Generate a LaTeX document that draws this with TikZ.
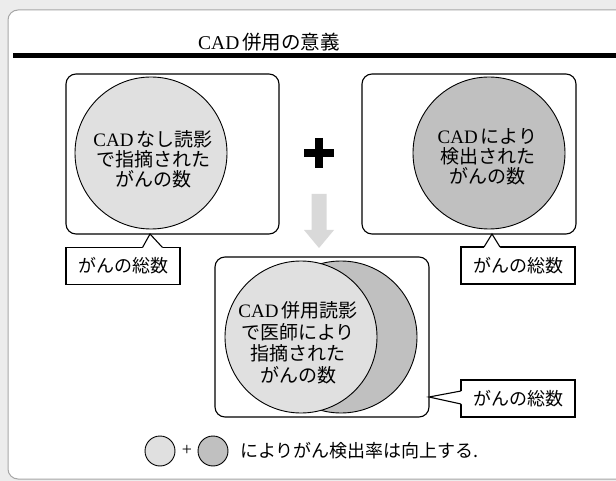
\documentclass[tikz,border=0pt]{standalone}
\usepackage{fontspec}
\setmainfont{Liberation Serif}
\newfontfamily\jp{Noto Sans CJK JP}
\newfontfamily\lat{Liberation Serif}
\definecolor{bgray}{HTML}{ECECEC}
\definecolor{lightc}{HTML}{E0E0E0}
\definecolor{darkc}{HTML}{C0C0C0}
\definecolor{arrowc}{HTML}{D9D9D9}
\definecolor{panelc}{HTML}{A6A6A6}
\newcommand\CADw{{\lat CAD}\hspace{3pt}}
\tikzset{
  bigbox/.style={draw, rounded corners=10, line width=1.1, fill=white, inner sep=0},
  circ/.style={circle, draw, line width=0.9, minimum size=152, inner sep=0},
  ctext/.style={align=center, inner sep=0, font=\fontsize{19}{20}\selectfont\jp},
  callout/.style={draw, fill=white, line width=1.1, minimum width=114, minimum height=37, inner sep=0, font=\fontsize{18}{20}\selectfont\jp},
  ptr/.style={line width=1.1},
  legc/.style={circle, draw, line width=0.9, minimum size=30, inner sep=0},
}
\begin{document}
\begin{tikzpicture}[x=1pt,y=-1pt]
\useasboundingbox (0,0) rectangle (616,481);
\fill[bgray] (0,0) rectangle (616,481);
\begin{scope}
\clip (0,0) rectangle (616,481);
\draw[panelc, fill=white, line width=1, rounded corners=10] (8,10) rectangle (640,479);
\end{scope}

% title and rule
\node[font=\fontsize{19.5}{22}\selectfont\jp, inner sep=0] (title) at (269,42) {\CADw 併用の意義};
\draw[line width=5] (13,55.5) -- (616,55.5);

% big boxes
\node[bigbox, minimum width=213, minimum height=160] (boxL) at (172.5,154) {};
\node[bigbox, minimum width=214, minimum height=160] (boxR) at (469,154) {};
\node[bigbox, minimum width=214, minimum height=160] (boxB) at (322,337) {};

% circles
\node[circ, fill=lightc] (cL) at (151,153) {};
\node[ctext] (tL) at (153,159) {\CADw なし読影\\で指摘された\\がんの数};
\node[circ, fill=darkc] (cR) at (489,153) {};
\node[ctext] (tR) at (487.5,157) {\CADw により\\検出された\\がんの数};
\node[circ, fill=darkc] (cB2) at (341,337) {};
\node[circ, fill=lightc] (cB1) at (301,337) {};
\node[ctext, font=\fontsize{19}{21.5}\selectfont\jp] (tB) at (298,343) {\CADw 併用読影\\で医師により\\指摘された\\がんの数};

% plus
\draw[line width=8] (304,153) -- (334,153) (319,138) -- (319,168);

% down arrow
\fill[arrowc] (311.5,194) -- (326.5,194) -- (326.5,230) -- (334,230) -- (319,248) -- (304,230) -- (311.5,230) -- cycle;

% callouts
\node[callout] (kL) at (123,266) {がんの総数};
\node[callout] (kR) at (518,265.5) {がんの総数};
\node[callout] (kB) at (518,398.5) {がんの総数};

\coordinate (pL) at (150,234);
\coordinate (pR) at (492,234);
\coordinate (pB) at (429,397);
\fill[white] (142.5,248) -- (142.5,247) -- (pL) -- (162.5,247) -- (162.5,248) -- cycle;
\draw[ptr] (142.5,247.5) -- (pL) -- (162.5,247.5);
\fill[white] (484,248) -- (484,247) -- (pR) -- (500,247) -- (500,248) -- cycle;
\draw[ptr] (484,247) -- (pR) -- (500,247);
\fill[white] (462,391) -- (461,391) -- (pB) -- (461,404) -- (462,404) -- cycle;
\draw[ptr] (461,391) -- (pB) -- (461,404);

% legend
\node[legc, fill=lightc] (lg1) at (160,451) {};
\node[font=\fontsize{18}{18}\selectfont\lat, inner sep=0] (lgp) at (187,450) {+};
\node[legc, fill=darkc] (lg2) at (213,451) {};
\node[anchor=west, font=\fontsize{18}{20}\selectfont\jp, inner sep=0] (lgt) at (240,451) {によりがん検出率は向上する.};
\end{tikzpicture}
\end{document}
